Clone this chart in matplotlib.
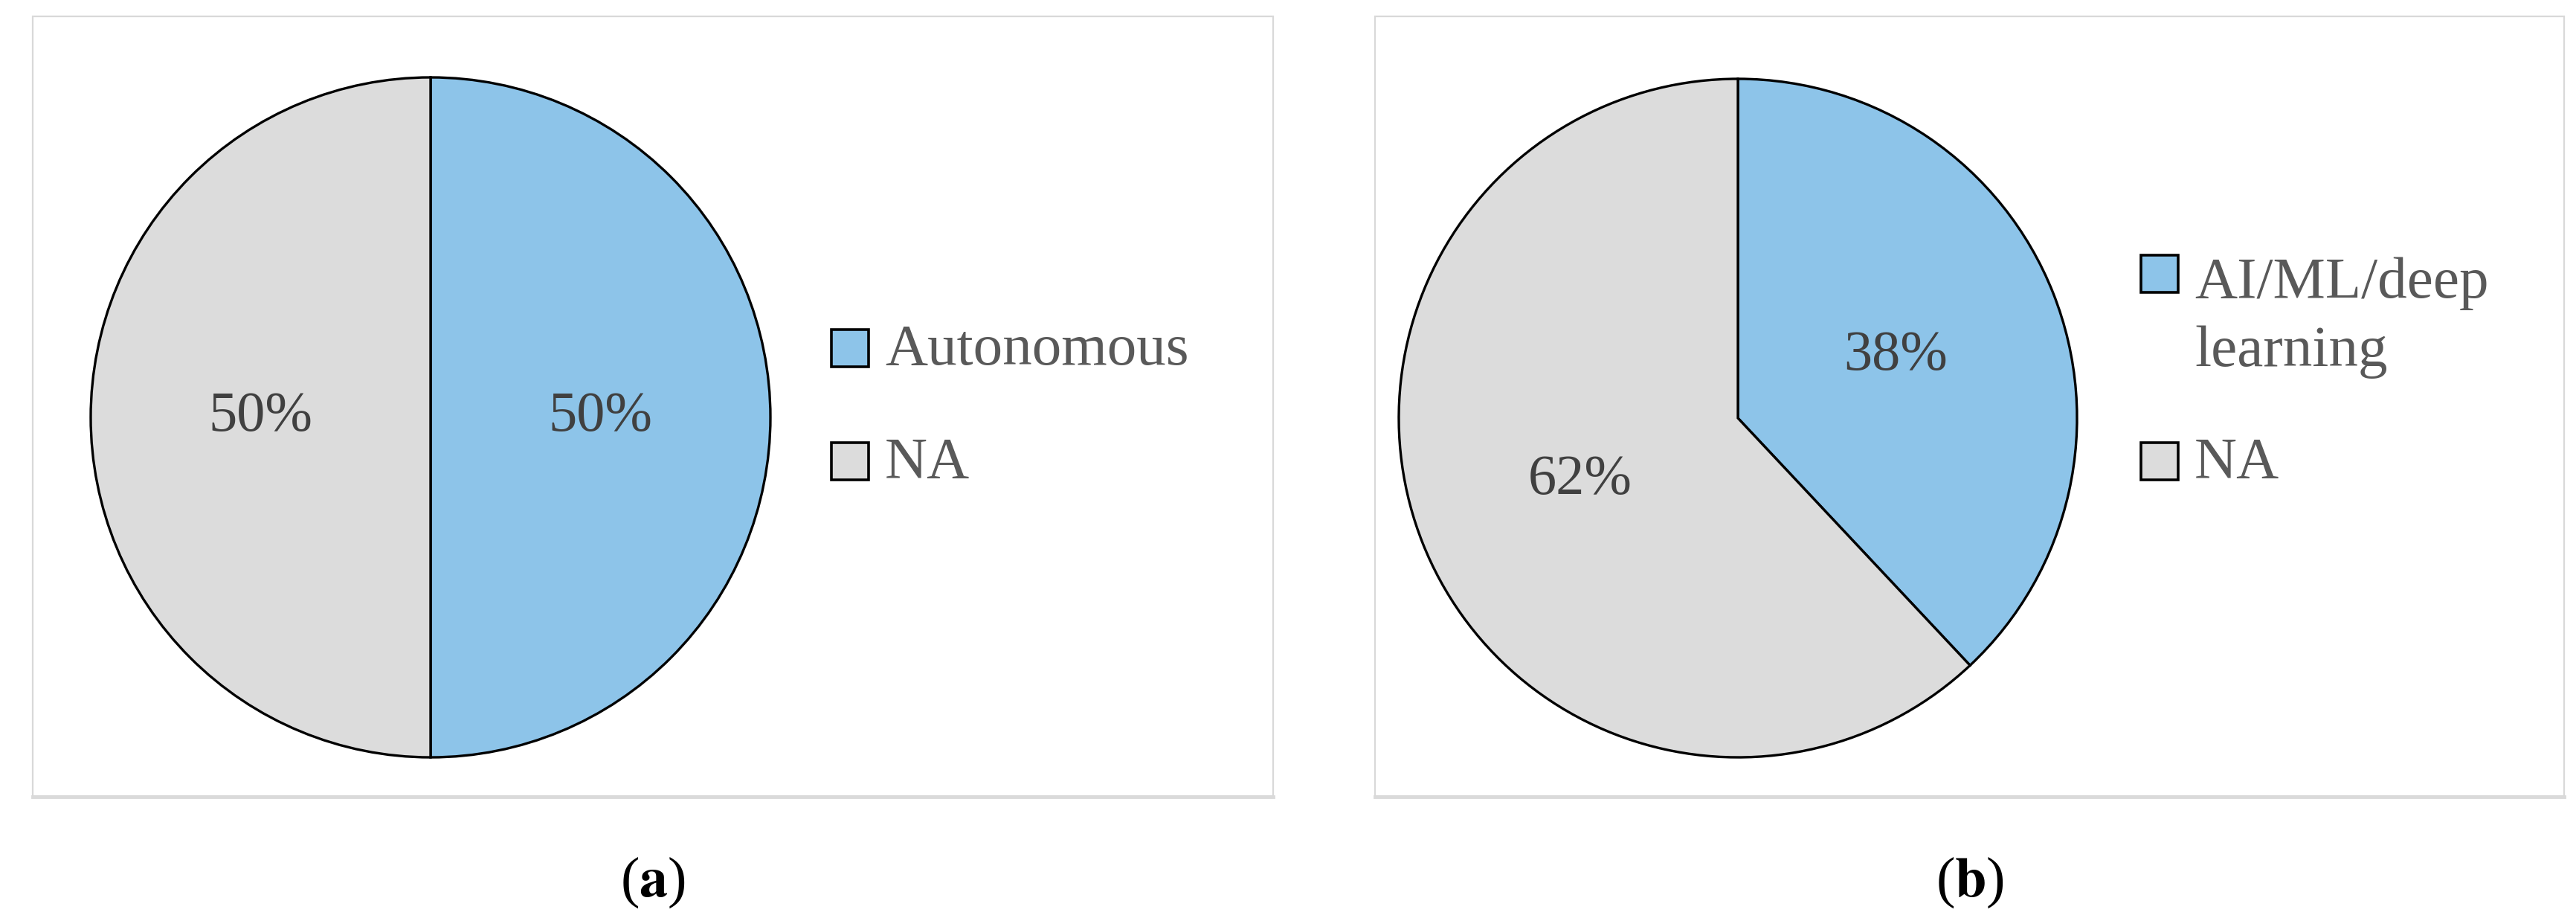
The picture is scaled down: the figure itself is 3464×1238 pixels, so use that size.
import matplotlib
matplotlib.use('Agg')
import matplotlib.pyplot as plt
from matplotlib.patches import Rectangle

plt.rcParams['font.family'] = ['Liberation Serif', 'DejaVu Serif']
plt.rcParams['mathtext.fontset'] = 'stix'

# ---------------- data ----------------
labels_a = ['Autonomous', 'NA']
values_a = [50, 50]
labels_b = ['AI/ML/deep\nlearning', 'NA']
values_b = [38, 62]
colors = ['#8DC4E9', '#DCDCDC']
captions = ['a', 'b']

W, H = 3464, 1238
fig = plt.figure(figsize=(W / 100, H / 100), dpi=100)


def fx(x):
    return x / W


def fy(y):
    return 1 - y / H


# panel frames
for x0, x1 in [(44, 1712), (1849, 3448)]:
    fig.add_artist(Rectangle((fx(x0), fy(1070)), fx(x1 - x0), (1070 - 22) / H,
                             transform=fig.transFigure, facecolor='white',
                             edgecolor='#D9D9D9', lw=1.6, zorder=0))
    fig.add_artist(plt.Line2D([fx(x0), fx(x1)], [fy(1071), fy(1071)],
                              transform=fig.transFigure, color='#DADADA', lw=3.5, zorder=0))


def draw_pie(cx, cy, r, values, labels, leg_x, leg_y):
    ax = fig.add_axes([fx(cx - r), fy(cy + r), 2 * r / W, 2 * r / H])
    wedges, texts, autotexts = ax.pie(values, colors=colors, startangle=90, counterclock=False,
                                      autopct='%.0f%%', pctdistance=0.5,
                                      wedgeprops=dict(edgecolor='black', linewidth=2.4),
                                      textprops=dict(fontsize=55, color='#404040'))
    ax.set_xlim(-1, 1)
    ax.set_ylim(-1, 1)
    ax.axis('off')
    # legend (square sits on the first line of the label)
    for lab, col, by in zip(labels, colors, leg_y):
        fig.add_artist(Rectangle((fx(leg_x), fy(by + 3)), 50 / W, 50 / H,
                                 transform=fig.transFigure, facecolor=col,
                                 edgecolor='black', lw=2.6))
        nlines = lab.count('\n')
        fig.text(fx(leg_x + 72), fy(by + 102 * nlines), lab, fontsize=57, color='#595959',
                 va='baseline', ha='left', linespacing=1.38)
    return ax


draw_pie(579, 561, 457, values_a, labels_a, 1118, [490, 642])
draw_pie(2337, 562, 456, values_b, labels_b, 2879, [390, 642])

for cap, x in zip(captions, [878, 2649]):
    fig.text(fx(x), fy(1186), '(' + r'$\mathbf{' + cap + '}$' + ')', fontsize=55,
             color='black', ha='center', va='center')

fig.savefig('out.png', dpi=100, facecolor='white')
